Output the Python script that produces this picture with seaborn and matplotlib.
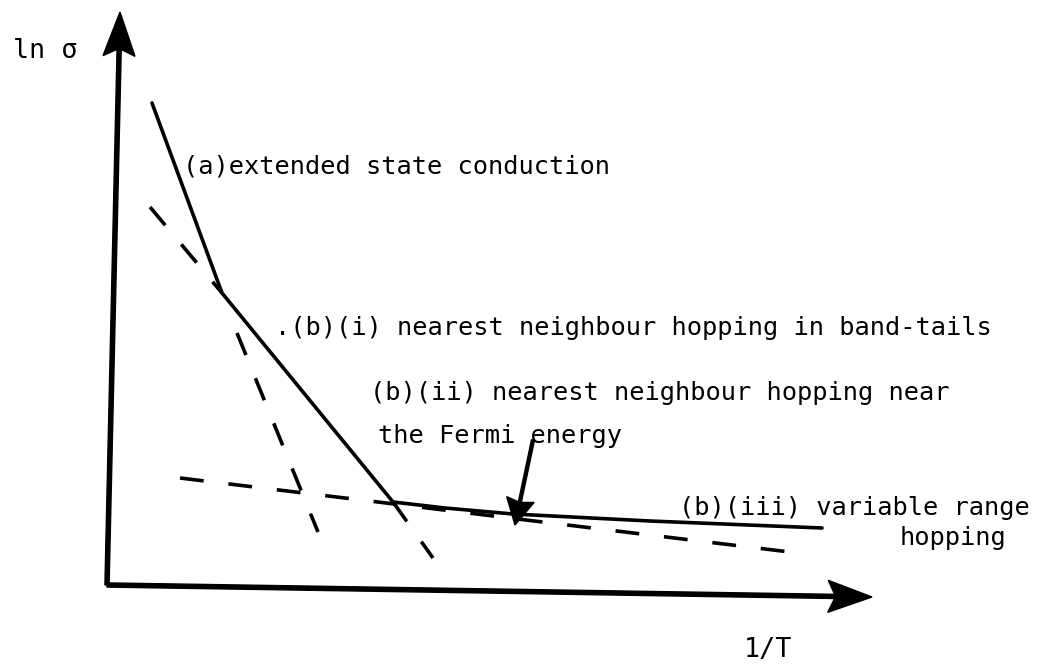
import matplotlib
matplotlib.use("Agg")
import matplotlib.pyplot as plt
import seaborn as sns

# Schematic ln(sigma) versus 1/T in arbitrary units
inv_T = [4.5, 11.5, 28.6, 33.8, 40.6, 54.3, 71.5]
ln_sigma = [48.2, 29.2, 8.3, 7.7, 7.1, 6.4, 5.7]

# Straight-line extrapolations of the individual regimes (dashed)
ext_a_x = [13.0, 21.1]
ext_a_y = [25.2, 5.3]
ext_bi_up_x = [4.3, 11.5]
ext_bi_up_y = [37.8, 29.2]
ext_bi_down_x = [28.6, 32.6]
ext_bi_down_y = [8.3, 2.7]
ext_bii_x = [7.3, 69.1]
ext_bii_y = [10.7, 3.2]

# Regime labels: text, left x, baseline y
labels = [
    "(a)extended state conduction",
    ".(b)(i) nearest neighbour hopping in band-tails",
    "(b)(ii) nearest neighbour hopping near",
    "the Fermi energy",
    "(b)(iii) variable range",
    "hopping",
]
label_x = [7.6, 16.8, 26.3, 27.1, 57.2, 79.3]
label_y = [41.2, 25.0, 18.5, 14.2, 7.0, 4.0]

# Pointer from the Fermi-energy label to the curve
fermi_start = (42.6, 14.5)
fermi_tip = (40.8, 6.0)

# Axis arrows (origin, tip)
y_axis = ((0.0, 0.0), (1.3, 57.3))
x_axis = ((0.0, 0.0), (76.5, -1.2))

sns.set_theme(style="white")
plt.rcParams["font.family"] = ["DejaVu Sans Mono", "DejaVu Sans"]

fig = plt.figure(figsize=(10.5, 6.64), dpi=100)
ax = fig.add_axes([0, 0, 1, 1])
ax.set_xlim(-10.7, 94.3)
ax.set_ylim(-7.9, 58.5)
ax.set_axis_off()
fig.patch.set_facecolor("white")

lw = 2.6
dash = (0, (6.6, 6.9))

# Measured curve
sns.lineplot(x=inv_T, y=ln_sigma, ax=ax, color="black", linewidth=lw,
             sort=False, estimator=None)

# Extrapolated regimes
for xs, ys in [(ext_a_x, ext_a_y), (ext_bi_up_x, ext_bi_up_y),
               (ext_bi_down_x, ext_bi_down_y), (ext_bii_x, ext_bii_y)]:
    sns.lineplot(x=xs, y=ys, ax=ax, color="black", linewidth=lw,
                 linestyle=dash, sort=False, estimator=None)

# Axes drawn as arrows
for (x0, y0), (x1, y1) in [y_axis, x_axis]:
    ax.arrow(x0, y0, x1 - x0, y1 - y0, width=0.42, head_width=3.2,
             head_length=4.4, overhang=0.15, length_includes_head=True,
             color="black", zorder=3)

ax.arrow(fermi_start[0], fermi_start[1],
         fermi_tip[0] - fermi_start[0], fermi_tip[1] - fermi_start[1],
         width=0.3, head_width=2.8, head_length=2.6, overhang=0.1,
         length_includes_head=True, color="black", zorder=3)

fs = 18.3
for text, x, y in zip(labels, label_x, label_y):
    ax.text(x, y, text, fontsize=fs, color="black", ha="left",
            va="baseline")

ax.text(-9.4, 52.7, "ln σ", fontsize=fs + 1, color="black", ha="left",
        va="baseline")
ax.text(66.1, -7.2, "1/T", fontsize=fs + 1, color="black", ha="center",
        va="baseline")

fig.savefig("out.png", dpi=100, facecolor="white")
